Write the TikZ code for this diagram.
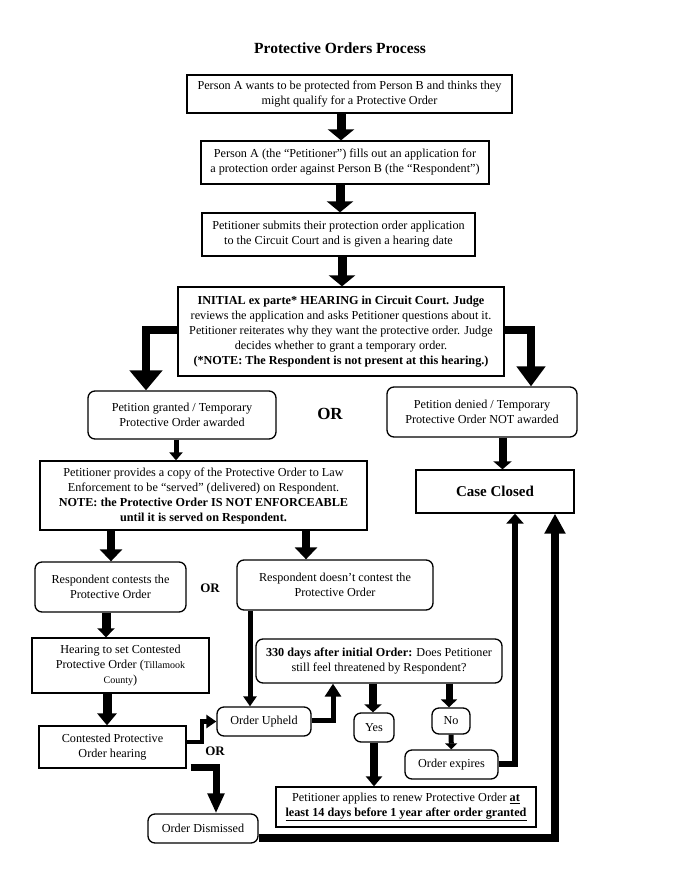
\documentclass[tikz,border=0pt]{standalone}
\usepackage{fontspec}
\setmainfont{Liberation Serif}
\usetikzlibrary{arrows.meta}
\begin{document}
\begin{tikzpicture}[x=1pt,y=-1pt,
  every node/.style={font=\fontsize{12.2}{15}\selectfont, align=center, inner sep=0pt},
  sq/.style={draw, line width=1.3pt, rectangle},
  rd/.style={draw, line width=1.3pt, rectangle, rounded corners=7pt},
  orlab/.style={font=\bfseries\fontsize{#1}{#1}\selectfont},
  arr/.style n args={3}{line width=#1, line join=miter, -{Triangle[width=#2,length=#3]}}
]
\useasboundingbox (0,0) rectangle (680,880);

\node[font=\bfseries\fontsize{15.5}{18}\selectfont] (title) at (340,48) {Protective Orders Process};

\node[sq, minimum width=325pt, minimum height=38pt] (b1) at (349.5,94)
  {Person A wants to be protected from Person B and thinks they\\might qualify for a Protective Order};
\node[sq, minimum width=288pt, minimum height=43pt] (b2) at (345,162.5)
  {Person A (the “Petitioner”) fills out an application for\\a protection order against Person B (the “Respondent”)};
\node[sq, minimum width=273pt, minimum height=43pt] (b3) at (338.5,234.5)
  {Petitioner submits their protection order application\\to the Circuit Court and is given a hearing date};
\node[sq, minimum width=326pt, minimum height=89pt] (b4) at (341,331.5)
  {\textbf{INITIAL ex parte* HEARING in Circuit Court. Judge}\\reviews the application and asks Petitioner questions about it.\\Petitioner reiterates why they want the protective order. Judge\\decides whether to grant a temporary order.\\\textbf{(*NOTE: The Respondent is not present at this hearing.)}};

\node[rd, minimum width=188pt, minimum height=48pt] (b5) at (182,415)
  {Petition granted / Temporary\\Protective Order awarded};
\node[orlab=17] (or1) at (330,414) {OR};
\node[rd, minimum width=190pt, minimum height=50pt] (b6) at (482,412)
  {Petition denied / Temporary\\Protective Order NOT awarded};
\node[sq, minimum width=158pt, minimum height=43pt, font=\bfseries\fontsize{15}{18}\selectfont] (cc) at (495,491.5) {Case Closed};

\node[sq, minimum width=327pt, minimum height=69pt] (b7) at (203.5,495.5)
  {Petitioner provides a copy of the Protective Order to Law\\Enforcement to be “served” (delivered) on Respondent.\\\textbf{NOTE: the Protective Order IS NOT ENFORCEABLE}\\\textbf{until it is served on Respondent.}};

\node[rd, minimum width=151pt, minimum height=50pt] (b8) at (110.5,587)
  {Respondent contests the\\Protective Order};
\node[orlab=13] (or2) at (210,588) {OR};
\node[rd, minimum width=196pt, minimum height=50pt] (b9) at (335,585)
  {Respondent doesn’t contest the\\Protective Order};

\node[sq, minimum width=177pt, minimum height=55pt] (b10) at (120.5,665.5)
  {Hearing to set Contested\\Protective Order ({\fontsize{10}{12}\selectfont Tillamook}\\{\fontsize{10}{12}\selectfont County})};
\node[sq, minimum width=147pt, minimum height=42pt] (b11) at (112.5,747)
  {Contested Protective\\Order hearing};
\node[orlab=13] (or3) at (215,751) {OR};
\node[rd, minimum width=94pt, minimum height=29pt] (up) at (264,721.5) {Order Upheld};
\node[rd, minimum width=110pt, minimum height=29pt] (dis) at (203,828.5) {Order Dismissed};

\node[rd, minimum width=246pt, minimum height=44pt] (b12) at (379,661)
  {\textbf{330 days after initial Order:} Does Petitioner\\still feel threatened by Respondent?};
\node[rd, minimum width=40pt, minimum height=29pt] (yes) at (374,727.5) {Yes};
\node[rd, minimum width=38pt, minimum height=26pt] (no) at (451,721) {No};
\node[rd, minimum width=93pt, minimum height=29pt] (exp) at (451.5,764.5) {Order expires};
\node[sq, minimum width=260pt, minimum height=40pt] (b13) at (406,807)
  {Petitioner applies to renew Protective Order \underline{\textbf{at}}\\\underline{\textbf{least 14 days before 1 year after order granted}}};

% main vertical arrows
\draw[arr={9pt}{26pt}{11pt}] ([xshift=-8.5pt]b1.south) -- ([xshift=-8.5pt]b1.south |- b2.north);
\draw[arr={9pt}{26pt}{11pt}] ([xshift=-5pt]b2.south) -- ([xshift=-5pt]b2.south |- b3.north);
\draw[arr={9pt}{26pt}{11pt}] ([xshift=3.5pt]b3.south) -- ([xshift=3.5pt]b3.south |- b4.north);

% from initial hearing
\coordinate (l4) at (146,330);
\coordinate (r4) at (531,330);
\draw[arr={8pt}{32pt}{20pt}] (b4.west |- l4) -- (l4) -- (l4 |- b5.north);
\draw[arr={8pt}{28pt}{20pt}] (b4.east |- r4) -- (r4) -- (r4 |- b6.north);

\draw[arr={8pt}{18pt}{8pt}] ([xshift=20.5pt]b6.south) -- ([xshift=20.5pt]b6.south |- cc.north);
\draw[arr={5pt}{13pt}{8pt}] ([xshift=-6pt]b5.south) -- ([xshift=-6pt]b5.south |- b7.north);

\draw[arr={8pt}{22pt}{12pt}] ([xshift=-92.5pt]b7.south) -- ([xshift=-92.5pt]b7.south |- b8.north);
\draw[arr={8pt}{22pt}{12pt}] ([xshift=102.5pt]b7.south) -- ([xshift=102.5pt]b7.south |- b9.north);

\draw[arr={9pt}{17pt}{9pt}] ([xshift=-4.5pt]b8.south) -- ([xshift=-4.5pt]b8.south |- b10.north);
\draw[arr={9pt}{19pt}{12pt}] ([xshift=-13.5pt]b10.south) -- ([xshift=-13.5pt]b10.south |- b11.north);

\draw[arr={5pt}{13pt}{10pt}] ([xshift=-85pt]b9.south) -- ([xshift=-85pt]b9.south |- up.north);

\coordinate (h1) at (202,742);
\draw[arr={4.5pt}{13pt}{10pt}] (b11.east |- h1) -- (h1) -- (h1 |- up.west) -- (up.west);
\coordinate (h2) at (333,720);
\draw[arr={5pt}{16pt}{13pt}] (up.east |- h2) -- (h2) -- (h2 |- b12.south);

\draw[arr={8pt}{17pt}{8pt}] ([xshift=-6pt]b12.south) -- ([xshift=-6pt]b12.south |- yes.north);
\draw[arr={7pt}{16pt}{8pt}] ([xshift=70pt]b12.south) -- ([xshift=70pt]b12.south |- no.north);
\draw[arr={5pt}{12pt}{6pt}] (no) -- (exp);
\draw[arr={8pt}{16pt}{10pt}] (yes) -- (yes |- b13.north);

\coordinate (h3) at (216,767.5);
\draw[arr={7pt}{16pt}{20pt}] ([xshift=4pt]b11.south east |- h3) -- (h3) -- (h3 |- dis.north);
\coordinate (h4) at (555,838);
\draw[arr={8pt}{20pt}{20pt}] (dis.east |- h4) -- (h4) -- (h4 |- cc.south);
\coordinate (h5) at (515,764);
\draw[arr={6pt}{17pt}{10pt}] (exp.east |- h5) -- (h5) -- (h5 |- cc.south);
\end{tikzpicture}
\end{document}
